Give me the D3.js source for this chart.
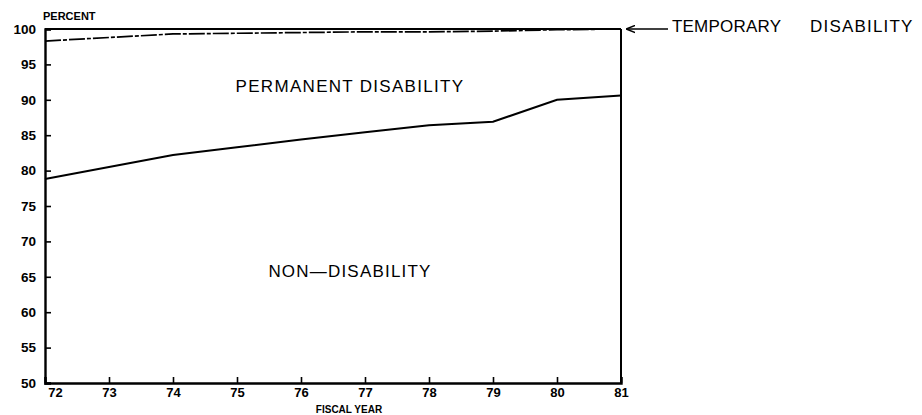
<!doctype html>
<html>
<head>
<meta charset="utf8">
<title>Disability Percent by Fiscal Year</title>
<script src="https://cdn.jsdelivr.net/npm/d3@7"></script>
<style>
    body { margin: 0; background: #fff; }
    svg text { font-family: "Liberation Sans", Arial, sans-serif; font-weight: bold; fill: #000; }
    .axis path, .axis line { stroke: #000; }
</style>
</head>
<body>
<div id="board"></div>
<script>
"use strict";
// fiscal years and the stacked boundaries (percent)
const years = [72, 73, 74, 75, 76, 77, 78, 79, 80, 81];
const nonDisability = [78.8, 80.5, 82.2, 83.3, 84.4, 85.4, 86.4, 86.9, 90.0, 90.6];   // top of non-disability
const permanentTop = [98.3, 98.8, 99.3, 99.4, 99.5, 99.6, 99.6, 99.7, 99.9, 100.0];   // top of permanent disability
const totalTop = [100, 100, 100, 100, 100, 100, 100, 100, 100, 100];
const yTicks = [50, 55, 60, 65, 70, 75, 80, 85, 90, 95, 100];

var _width = 922, _height = 415;
var mLeft = 45, mRight = 621, mTop = 29, mBottom = 383;

var svg = d3.select("#board").append("svg")
    .attr("width", _width)
    .attr("height", _height);

var xScale = d3.scaleLinear().domain([72, 81]).range([mLeft, mRight]);
var yScale = d3.scaleLinear().domain([50, 100]).range([mBottom, mTop]);

// axes
var xAxis = d3.axisBottom(xScale).tickValues(years).tickSize(-6).tickPadding(5).tickFormat(d3.format("d"));
svg.append("g").attr("class", "axis")
    .attr("transform", "translate(0," + mBottom + ")")
    .call(xAxis)
    .call(g => g.select(".domain").attr("stroke-width", 2.4))
    .call(g => g.selectAll("line").attr("stroke-width", 1.6))
    .call(g => g.selectAll("text").attr("font-size", 13).attr("dx", (d, i) => i == 0 ? 10 : 0));

var yAxis = d3.axisLeft(yScale).tickValues(yTicks).tickSize(-6).tickPadding(9);
svg.append("g").attr("class", "axis")
    .attr("transform", "translate(" + mLeft + ",0)")
    .call(yAxis)
    .call(g => g.select(".domain").attr("stroke-width", 2.4))
    .call(g => g.selectAll("line").attr("stroke-width", 1.6))
    .call(g => g.selectAll("text").attr("font-size", 13.5));

// right border
svg.append("line")
    .attr("x1", xScale(81)).attr("x2", xScale(81))
    .attr("y1", yScale(100)).attr("y2", yScale(50))
    .attr("stroke", "#000").attr("stroke-width", 2);

function drawLine(vals, dash, w){
    var line = d3.line()
        .x((d, i) => xScale(years[i]))
        .y(d => yScale(d));
    svg.append("path")
        .datum(vals)
        .attr("d", line)
        .attr("fill", "none")
        .attr("stroke", "#000")
        .attr("stroke-width", w)
        .attr("stroke-dasharray", dash);
}
drawLine(totalTop, null, 2.2);
drawLine(permanentTop, "16,2,4,2", 1.7);
drawLine(nonDisability, null, 2);

// labels
svg.append("text").attr("x", 43).attr("y", 20).attr("font-size", 11).text("PERCENT");
svg.append("text").attr("x", 350).attr("y", 92).attr("text-anchor", "middle")
    .attr("font-size", 17).attr("letter-spacing", 1.3).style("font-weight", "normal")
    .text("PERMANENT DISABILITY");
svg.append("text").attr("x", 350).attr("y", 277).attr("text-anchor", "middle")
    .attr("font-size", 17).attr("letter-spacing", 1.2).style("font-weight", "normal")
    .text("NON\u2014DISABILITY");
svg.append("text").attr("x", 349).attr("y", 413).attr("text-anchor", "middle")
    .attr("font-size", 10).text("FISCAL YEAR");

// temporary disability callout
svg.append("text").attr("x", 672).attr("y", 32).attr("font-size", 17).attr("letter-spacing", 0.2)
    .style("font-weight", "normal").text("TEMPORARY");
svg.append("text").attr("x", 810).attr("y", 32).attr("font-size", 17).attr("letter-spacing", 1.2)
    .style("font-weight", "normal").text("DISABILITY");
svg.append("defs").append("marker")
    .attr("id", "arrow").attr("viewBox", "0 0 10 10")
    .attr("refX", 9).attr("refY", 5)
    .attr("markerWidth", 9).attr("markerHeight", 9)
    .attr("markerUnits", "userSpaceOnUse")
    .attr("orient", "auto")
    .append("path").attr("d", "M0,1 L10,5 L0,9").attr("fill", "none").attr("stroke", "#000").attr("stroke-width", 1.6);
svg.append("line")
    .attr("x1", 668).attr("x2", 627)
    .attr("y1", yScale(100)).attr("y2", yScale(100))
    .attr("stroke", "#000").attr("stroke-width", 1.4)
    .attr("marker-end", "url(#arrow)");
</script>
</body>
</html>
